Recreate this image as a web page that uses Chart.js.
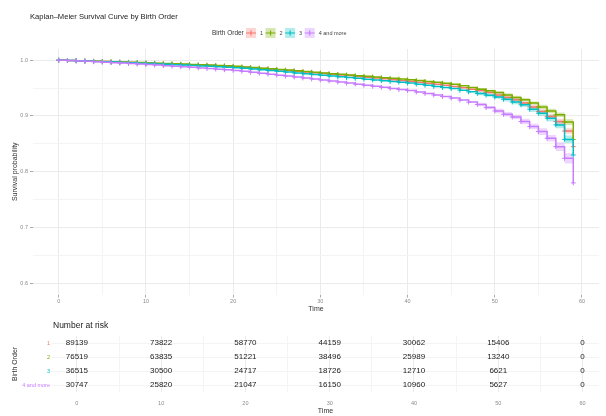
<!doctype html>
<html lang="en">
<head>
<meta charset="utf-8">
<title>Kaplan–Meier Survival Curve by Birth Order</title>
<style>
    * {
        margin: 0;
        padding: 0;
    }

    body {
        background: #fff;
        width: 606px;
        height: 416px;
        overflow: hidden;
        position: relative;
    }

    #kmBox {
        position: absolute;
        left: 0;
        top: 0;
    }

    #riskBox {
        position: absolute;
        left: 0;
        top: 316px;
    }
</style>
</head>
<body>
<div id="kmBox"><canvas id="kmChart" width="606" height="316"></canvas></div>
<div id="riskBox"><canvas id="riskChart" width="606" height="100"></canvas></div>

<script src="https://cdn.jsdelivr.net/npm/chart.js"></script>
<script>
    // groups and colours (ggplot default hues)
    const groups = ['1', '2', '3', '4 and more']
    const colors = ['#F8766D', '#7CAE00', '#00BFC4', '#C77CFF']
    const bandColors = ['rgba(248,118,109,0.3)', 'rgba(124,174,0,0.3)', 'rgba(0,191,196,0.3)', 'rgba(199,124,255,0.3)']

    const mainTitle = 'Kaplan–Meier Survival Curve by Birth Order'
    const legendTitle = 'Birth Order'
    const riskTitle = 'Number at risk'

    // time in months
    const months = [0, 1, 2, 3, 4, 5, 6, 7, 8, 9,
        10, 11, 12, 13, 14, 15, 16, 17, 18, 19,
        20, 21, 22, 23, 24, 25, 26, 27, 28, 29,
        30, 31, 32, 33, 34, 35, 36, 37, 38, 39,
        40, 41, 42, 43, 44, 45, 46, 47, 48, 49,
        50, 51, 52, 53, 54, 55, 56, 57, 58, 59]

    // survival estimates
    const surv1 = [1.0000, 0.9995, 0.9990, 0.9985, 0.9980, 0.9975, 0.9969, 0.9964, 0.9958, 0.9953,
        0.9947, 0.9941, 0.9935, 0.9929, 0.9923, 0.9917, 0.9911, 0.9904, 0.9897, 0.9890,
        0.9883, 0.9872, 0.9861, 0.9850, 0.9838, 0.9826, 0.9814, 0.9801, 0.9788, 0.9775,
        0.9762, 0.9749, 0.9736, 0.9723, 0.9709, 0.9695, 0.9681, 0.9666, 0.9651, 0.9636,
        0.9620, 0.9603, 0.9586, 0.9568, 0.9549, 0.9530, 0.9505, 0.9480, 0.9455, 0.9420,
        0.9375, 0.9330, 0.9290, 0.9230, 0.9160, 0.9080, 0.8990, 0.8900, 0.8730, 0.8450]
    const surv2 = [1.0000, 0.9995, 0.9990, 0.9986, 0.9981, 0.9976, 0.9971, 0.9966, 0.9961, 0.9956,
        0.9950, 0.9945, 0.9940, 0.9934, 0.9929, 0.9923, 0.9917, 0.9911, 0.9905, 0.9899,
        0.9892, 0.9879, 0.9868, 0.9857, 0.9846, 0.9834, 0.9822, 0.9810, 0.9797, 0.9784,
        0.9770, 0.9758, 0.9746, 0.9734, 0.9722, 0.9710, 0.9698, 0.9686, 0.9674, 0.9662,
        0.9650, 0.9635, 0.9619, 0.9603, 0.9586, 0.9569, 0.9540, 0.9510, 0.9480, 0.9450,
        0.9420, 0.9375, 0.9330, 0.9290, 0.9230, 0.9160, 0.9090, 0.9020, 0.8890, 0.8580]
    const surv3 = [1.0000, 0.9995, 0.9989, 0.9983, 0.9977, 0.9971, 0.9965, 0.9959, 0.9953, 0.9946,
        0.9940, 0.9933, 0.9926, 0.9919, 0.9912, 0.9905, 0.9897, 0.9889, 0.9881, 0.9874,
        0.9866, 0.9853, 0.9840, 0.9827, 0.9814, 0.9800, 0.9786, 0.9772, 0.9758, 0.9744,
        0.9730, 0.9716, 0.9702, 0.9688, 0.9674, 0.9660, 0.9646, 0.9632, 0.9618, 0.9604,
        0.9590, 0.9570, 0.9550, 0.9530, 0.9510, 0.9490, 0.9461, 0.9432, 0.9403, 0.9372,
        0.9340, 0.9300, 0.9250, 0.9200, 0.9120, 0.9050, 0.8960, 0.8840, 0.8580, 0.8300]
    const surv4 = [1.0000, 0.9993, 0.9986, 0.9979, 0.9971, 0.9963, 0.9955, 0.9947, 0.9939, 0.9930,
        0.9921, 0.9912, 0.9902, 0.9892, 0.9882, 0.9872, 0.9861, 0.9850, 0.9839, 0.9828,
        0.9816, 0.9799, 0.9782, 0.9765, 0.9748, 0.9731, 0.9714, 0.9697, 0.9680, 0.9663,
        0.9646, 0.9627, 0.9608, 0.9589, 0.9570, 0.9551, 0.9532, 0.9513, 0.9494, 0.9475,
        0.9456, 0.9430, 0.9403, 0.9376, 0.9348, 0.9320, 0.9285, 0.9248, 0.9205, 0.9150,
        0.9090, 0.9030, 0.8980, 0.8900, 0.8810, 0.8720, 0.8600, 0.8450, 0.8240, 0.7800]

    // confidence band half widths, only visible near the end
    const ciMonths = [48, 49, 50, 51, 52, 53, 54, 55, 56, 57, 58, 59]
    const ciHalf1 = [0.002, 0.002, 0.003, 0.003, 0.003, 0.003, 0.004, 0.004, 0.004, 0.005, 0.005, 0.007]
    const ciHalf2 = [0.002, 0.002, 0.002, 0.003, 0.003, 0.003, 0.003, 0.004, 0.004, 0.004, 0.005, 0.007]
    const ciHalf3 = [0.003, 0.003, 0.003, 0.004, 0.004, 0.004, 0.005, 0.005, 0.006, 0.006, 0.007, 0.009]
    const ciHalf4 = [0.003, 0.003, 0.004, 0.004, 0.004, 0.005, 0.005, 0.006, 0.006, 0.008, 0.009, 0.012]

    // axis ticks (majors get labels, the rest are minor grid lines)
    const xTicks = [0, 5, 10, 15, 20, 25, 30, 35, 40, 45, 50, 55, 60]
    const yTicks = [0.6, 0.65, 0.7, 0.75, 0.8, 0.85, 0.9, 0.95, 1.0]

    // number at risk table
    const riskTimes = [0, 10, 20, 30, 40, 50, 60]
    const risk1 = [89139, 73822, 58770, 44159, 30062, 15406, 0]
    const risk2 = [76519, 63835, 51221, 38496, 25989, 13240, 0]
    const risk3 = [36515, 30500, 24717, 18726, 12710, 6621, 0]
    const risk4 = [30747, 25820, 21047, 16150, 10960, 5627, 0]

    const FONT = "'Liberation Sans', Arial, sans-serif"
    Chart.defaults.font.family = FONT
    Chart.defaults.animation = false

    const survSeries = [surv1, surv2, surv3, surv4]
    const ciSeries = [ciHalf1, ciHalf2, ciHalf3, ciHalf4]
    const riskRows = [risk1, risk2, risk3, risk4]

    const isMajorX = v => v % 10 === 0
    const isMajorY = v => Math.abs(v * 10 - Math.round(v * 10)) < 1e-6
    const gridMajor = '#ebebeb'
    const gridMinor = '#f4f4f4'

    // ---- survival curves ----
    const kmDatasets = []
    groups.forEach((g, i) => {
        kmDatasets.push({
            label: g,
            data: months.map((m, k) => ({ x: m, y: survSeries[i][k] })),
            borderColor: colors[i],
            backgroundColor: colors[i],
            borderWidth: 1.5,
            stepped: 'before',
            pointStyle: 'cross',
            pointRadius: 2.4,
            pointBorderWidth: 1,
            pointBorderColor: colors[i],
            fill: false,
            order: 3 - i
        })
    })
    groups.forEach((g, i) => {
        const s = survSeries[i]
        const loIndex = kmDatasets.length
        kmDatasets.push({
            label: 'lower ' + g,
            data: ciMonths.map((m, k) => ({ x: m, y: s[months.indexOf(m)] - ciSeries[i][k] })),
            borderWidth: 0,
            pointRadius: 0,
            stepped: 'before',
            fill: false,
            order: 10
        })
        kmDatasets.push({
            label: 'upper ' + g,
            data: ciMonths.map((m, k) => ({ x: m, y: s[months.indexOf(m)] + ciSeries[i][k] })),
            borderWidth: 0,
            pointRadius: 0,
            stepped: 'before',
            backgroundColor: bandColors[i],
            fill: loIndex,
            order: 10
        })
    })

    // title and legend at the top
    const kmHeader = {
        id: 'kmHeader',
        afterDraw(chart) {
            const ctx = chart.ctx
            ctx.save()
            ctx.textBaseline = 'middle'
            ctx.fillStyle = '#1a1a1a'
            ctx.font = `7.6px ${FONT}`
            ctx.fillText(mainTitle, 30, 17)

            ctx.font = `6.5px ${FONT}`
            ctx.fillStyle = '#333'
            ctx.fillText(legendTitle, 212, 33)
            let x = 246
            groups.forEach((g, i) => {
                ctx.fillStyle = bandColors[i]
                ctx.fillRect(x, 28, 10, 10)
                ctx.strokeStyle = colors[i]
                ctx.lineWidth = 1.2
                ctx.beginPath()
                ctx.moveTo(x, 33); ctx.lineTo(x + 10, 33)
                ctx.moveTo(x + 5, 30.5); ctx.lineTo(x + 5, 35.5)
                ctx.stroke()
                ctx.fillStyle = '#444'
                ctx.font = `5.5px ${FONT}`
                ctx.fillText(g, x + 14, 33)
                x += 14 + ctx.measureText(g).width + 2.5
            })
            ctx.restore()
        }
    }

    const kmChart = new Chart(document.getElementById('kmChart'), {
        type: 'line',
        data: { datasets: kmDatasets },
        options: {
            responsive: false,
            devicePixelRatio: 1,
            layout: { padding: { top: 49, right: 7, left: 0, bottom: 0 } },
            plugins: { legend: { display: false }, tooltip: { enabled: false } },
            scales: {
                x: {
                    type: 'linear',
                    min: -2.95,
                    max: 61.95,
                    afterBuildTicks: s => { s.ticks = xTicks.map(v => ({ value: v })) },
                    afterFit: s => { s.height = 21.5 },
                    border: { display: false },
                    grid: {
                        color: c => isMajorX(c.tick.value) ? gridMajor : gridMinor,
                        tickColor: c => isMajorX(c.tick.value) ? '#aaa' : 'rgba(0,0,0,0)',
                        tickLength: 3
                    },
                    ticks: {
                        autoSkip: false,
                        maxRotation: 0,
                        padding: 1,
                        color: '#8a8a8a',
                        font: { size: 5.5 },
                        callback: v => isMajorX(v) ? String(v) : ''
                    },
                    title: {
                        display: true,
                        text: 'Time',
                        color: '#333',
                        font: { size: 7 },
                        padding: { top: 0, bottom: 2.8 }
                    }
                },
                y: {
                    min: 0.58,
                    max: 1.02,
                    afterBuildTicks: s => { s.ticks = yTicks.map(v => ({ value: v })) },
                    afterFit: s => { s.width = 33 },
                    border: { display: false },
                    grid: {
                        color: c => isMajorY(c.tick.value) ? gridMajor : gridMinor,
                        tickColor: c => isMajorY(c.tick.value) ? '#aaa' : 'rgba(0,0,0,0)',
                        tickLength: 3
                    },
                    ticks: {
                        autoSkip: false,
                        padding: 2,
                        color: '#8a8a8a',
                        font: { size: 5.5 },
                        callback: v => isMajorY(v) ? v.toFixed(1) : ''
                    },
                    title: {
                        display: true,
                        text: 'Survival probability',
                        color: '#333',
                        font: { size: 7 },
                        padding: { top: 11.3, bottom: 0 }
                    }
                }
            }
        },
        plugins: [kmHeader]
    })

    // ---- number at risk table ----
    const riskDatasets = groups.map((g, i) => ({
        label: g,
        data: riskTimes.map((t, k) => ({ x: t, y: g, n: riskRows[i][k] })),
        pointRadius: 0
    }))

    const riskLabels = {
        id: 'riskLabels',
        afterDatasetsDraw(chart) {
            const ctx = chart.ctx
            ctx.save()
            ctx.font = `8px ${FONT}`
            ctx.fillStyle = '#1a1a1a'
            ctx.textAlign = 'center'
            ctx.textBaseline = 'middle'
            chart.data.datasets.forEach((ds, i) => {
                chart.getDatasetMeta(i).data.forEach((pt, k) => {
                    ctx.fillText(String(ds.data[k].n), pt.x, pt.y)
                })
            })
            ctx.textAlign = 'left'
            ctx.font = `8.5px ${FONT}`
            ctx.fillText(riskTitle, 53, 10)
            ctx.restore()
        }
    }

    const riskChart = new Chart(document.getElementById('riskChart'), {
        type: 'scatter',
        data: { datasets: riskDatasets },
        options: {
            responsive: false,
            devicePixelRatio: 1,
            layout: { padding: { top: 20, right: 7, left: 0, bottom: 0 } },
            plugins: { legend: { display: false }, tooltip: { enabled: false } },
            scales: {
                x: {
                    type: 'linear',
                    min: -2.95,
                    max: 61.95,
                    afterBuildTicks: s => { s.ticks = xTicks.map(v => ({ value: v })) },
                    afterFit: s => { s.height = 24 },
                    border: { display: false },
                    grid: {
                        color: c => isMajorX(c.tick.value) ? gridMajor : gridMinor,
                        drawTicks: false
                    },
                    ticks: {
                        autoSkip: false,
                        maxRotation: 0,
                        padding: 8,
                        color: '#8a8a8a',
                        font: { size: 5.5 },
                        callback: v => isMajorX(v) ? String(v) : ''
                    },
                    title: {
                        display: true,
                        text: 'Time',
                        color: '#333',
                        font: { size: 7 },
                        padding: { top: 0, bottom: 0.8 }
                    }
                },
                y: {
                    type: 'category',
                    labels: groups,
                    offset: true,
                    afterFit: s => { s.width = 52 },
                    border: { display: false },
                    grid: {
                        color: gridMinor,
                        offset: false,
                        drawTicks: false
                    },
                    ticks: {
                        padding: 2,
                        color: c => colors[c.index],
                        font: { size: 5.5 }
                    },
                    title: {
                        display: true,
                        text: legendTitle,
                        color: '#333',
                        font: { size: 7 },
                        padding: { top: 11.3, bottom: 0 }
                    }
                }
            }
        },
        plugins: [riskLabels]
    })
</script>
</body>
</html>
